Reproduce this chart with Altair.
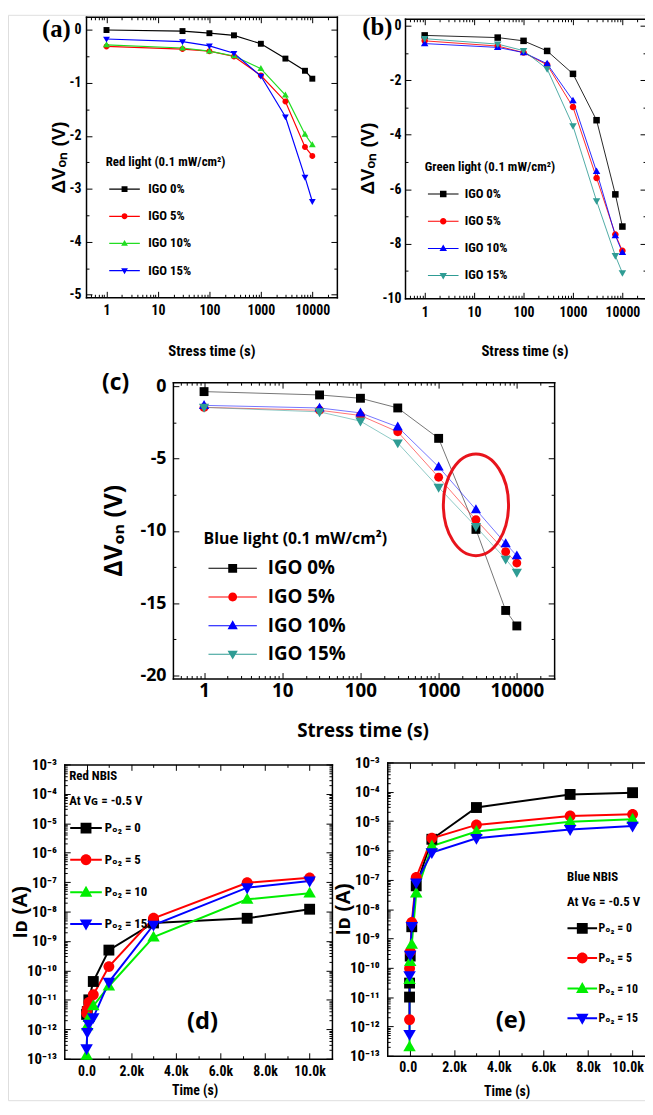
import altair as alt
import pandas as pd

# ------------------------------------------------------------------ data
STRESS_T = [1, 30, 100, 300, 1000, 3000, 7200, 10000]
IGO = ["IGO 0%", "IGO 5%", "IGO 10%", "IGO 15%"]

# (a) red light, delta V_on (V)
red_igo0 = [0.0, -0.02, -0.06, -0.10, -0.26, -0.54, -0.77, -0.92]
red_igo5 = [-0.31, -0.36, -0.40, -0.50, -0.86, -1.35, -2.21, -2.38]
red_igo10 = [-0.28, -0.34, -0.40, -0.49, -0.73, -1.23, -1.97, -2.17]
red_igo15 = [-0.17, -0.22, -0.30, -0.44, -0.87, -1.64, -2.78, -3.24]

# (b) green light
green_igo0 = [-0.36, -0.44, -0.56, -0.93, -1.77, -3.47, -6.19, -7.37]
green_igo5 = [-0.56, -0.75, -0.99, -1.44, -2.99, -5.59, -7.66, -8.26]
green_igo10 = [-0.66, -0.80, -0.99, -1.40, -2.75, -5.35, -7.70, -8.32]
green_igo15 = [-0.48, -0.68, -0.92, -1.59, -3.68, -6.43, -8.44, -9.07]

# (c) blue light
blue_igo0 = [-0.38, -0.61, -0.84, -1.51, -3.61, -9.9, -15.5, -16.57]
blue_igo5 = [-1.47, -1.67, -2.03, -3.16, -6.30, -9.23, -11.44, -12.23]
blue_igo10 = [-1.33, -1.51, -1.85, -2.82, -5.58, -8.53, -10.88, -11.72]
blue_igo15 = [-1.47, -1.78, -2.42, -3.93, -7.00, -9.71, -11.96, -12.87]

# circled region in (c)
ellipse_t = [3000]
ellipse_v = [-8.2]

# (d) red NBIS, I_D (A)
PO2 = ["P\u2092\u2082 = 0", "P\u2092\u2082 = 5", "P\u2092\u2082 = 10", "P\u2092\u2082 = 15"]
RED_NBIS_T = [0, 30, 100, 300, 1000, 3000, 7200, 10000]
rnbis_0 = [3.2e-12, 4.0e-12, 1.0e-11, 4.2e-11, 4.9e-10, 4.1e-9, 5.9e-9, 1.2e-8]
rnbis_5 = [3.5e-12, 4.8e-12, 8.1e-12, 1.5e-11, 1.35e-10, 5.9e-9, 9.5e-8, 1.4e-7]
rnbis_10 = [1.3e-13, 1.3e-12, 2.5e-12, 6.2e-12, 2.9e-11, 1.35e-9, 2.6e-8, 4.2e-8]
rnbis_15 = [2.2e-13, 7.9e-13, 1.5e-12, 2.5e-12, 4.0e-11, 3.5e-9, 6.5e-8, 1.1e-7]

# (e) blue NBIS
BLUE_NBIS_T = [0, 1, 30, 100, 300, 1000, 3000, 7200, 10000]
bnbis_0 = [1.0e-11, 3.0e-11, 2.5e-10, 2.5e-9, 6.2e-8, 2.4e-6, 2.9e-5, 8.1e-5, 9.3e-5]
bnbis_5 = [1.7e-12, 9.5e-11, 3.5e-10, 3.5e-9, 1.2e-7, 2.6e-6, 7.4e-6, 1.5e-5, 1.7e-5]
bnbis_10 = [2.0e-13, 3.9e-11, 1.6e-10, 6.2e-10, 3.5e-8, 1.4e-6, 4.4e-6, 9.5e-6, 1.15e-5]
bnbis_15 = [5.4e-13, 5.4e-11, 2.7e-10, 2.6e-9, 7.9e-8, 8.5e-7, 2.6e-6, 5.2e-6, 6.8e-6]

# ------------------------------------------------------------------ styles
FONT_N = "Liberation Sans Narrow, Arial Narrow, Roboto Condensed, DejaVu Sans Condensed, Roboto, sans-serif"
FONT_S = "Liberation Sans, Arial, sans-serif"
FONT_O = "Open Sans, Noto Sans, sans-serif"
FONT_SERIF = "Liberation Serif, Times New Roman, serif"

KINDS = ["square", "circle", "up", "down"]
GAP = {"square": 1.0, "circle": 1.0, "up": 0.65, "down": 0.65}
MAJ_TICK = 6
MIN_TICK = 3
CANVAS_W = 645
CANVAS_H = 1099
M = 8  # page margin: page coordinate = canvas coordinate + M


def marker(kind, cx, k):
    if kind == "square":
        return f"M{cx-k:.3f},{-k:.3f}H{cx+k:.3f}V{k:.3f}H{cx-k:.3f}Z"
    if kind == "circle":
        return (f"M{cx-k:.3f},0A{k:.3f},{k:.3f} 0 1,1 {cx+k:.3f},0"
                f"A{k:.3f},{k:.3f} 0 1,1 {cx-k:.3f},0Z")
    if kind == "up":
        return (f"M{cx:.3f},{-1.2*k:.3f}L{cx+1.15*k:.3f},{0.8*k:.3f}"
                f"L{cx-1.15*k:.3f},{0.8*k:.3f}Z")
    return (f"M{cx:.3f},{1.2*k:.3f}L{cx-1.15*k:.3f},{-0.8*k:.3f}"
            f"L{cx+1.15*k:.3f},{-0.8*k:.3f}Z")


def legend_path(kind, r, w, lw):
    x0 = -1.0
    x1 = w / r - 1.0
    cx = (x0 + x1) / 2
    h = lw / 2 / r
    g = GAP[kind]
    p = f"M{x0:.3f},{-h:.3f}H{cx-g:.3f}V{h:.3f}H{x0:.3f}Z"
    p += f"M{cx+g:.3f},{-h:.3f}H{x1:.3f}V{h:.3f}H{cx+g:.3f}Z"
    return p + marker(kind, cx, 1.0)


def long_df(times, series, names):
    rows = []
    for name, vals in zip(names, series):
        for t, v in zip(times, vals):
            rows.append({"t": t, "v": v, "s": name})
    return pd.DataFrame(rows)


# tick values (major ones are labelled, minor ones are short inner ticks)
LOGX_MAJOR = [1.0, 10.0, 100.0, 1000.0, 10000.0]
LOGX_MINOR = [0.5, 0.6, 0.7, 0.8, 0.9]
for e in range(0, 4):
    LOGX_MINOR += [float(f"{k}e{e}") for k in range(2, 10)]
LOGX_MINOR += [20000.0]

LOGY_MAJOR = [float(f"1e{e}") for e in range(-13, -2)]
LOGY_MINOR = []
for e in range(-13, -3):
    LOGY_MINOR += [float(f"{k}e{e}") for k in range(2, 10)]
SUP = {"0": "\u2070", "1": "\u00b9", "2": "\u00b2", "3": "\u00b3", "4": "\u2074", "5": "\u2075",
       "6": "\u2076", "7": "\u2077", "8": "\u2078", "9": "\u2079", "-": "\u207b"}
POW_LABELS = ["10" + "".join(SUP[c] for c in str(-n)) for n in range(3, 14)]
POW_ARRAY = "[" + ",".join(f"'{s}'" for s in POW_LABELS) + "]"
LOGY_LABEL = f"{POW_ARRAY}[-3 - round(log(datum.value)/LN10)]"

TIME_MAJOR = list(range(0, 10001, 2000))
TIME_MINOR = list(range(1000, 10000, 2000))
TIME_LABEL = "datum.value == 0 ? '0.0' : format(datum.value/1000, '.1f') + 'k'"
PLAIN_LABEL = "'' + datum.value"


def panel_layers(df, P):
    names = P["names"]
    xl, xr, yt, yb = [v - M for v in P["box"]]
    xs = alt.Scale(type=P["xtype"], domain=P["xdom"], range=[xl, xr], nice=False)
    ys = alt.Scale(type=P["ytype"], domain=P["ydom"], range=[yb, yt], nice=False)
    common = dict(grid=False, labelOverlap=False, minExtent=0, maxExtent=1000,
                  tickColor="black", tickWidth=1)

    # axis offsets that put an axis line at a given canvas position
    def off(orient, inset):
        if orient == "bottom":
            return yb - inset - CANVAS_H
        if orient == "top":
            return -(yt + inset)
        if orient == "left":
            return -(xl + inset)
        return xr - inset - CANVAS_W

    def tick_axis(orient, vals, size):
        return alt.Axis(orient=orient, values=vals, labels=False, domain=False,
                        tickSize=size, offset=off(orient, size), title=None, **common)

    def frame_axis(orient, vals):
        return alt.Axis(orient=orient, values=vals, labels=False, ticks=False, domain=True,
                        domainColor="black", domainWidth=1.5, domainCap="square",
                        offset=off(orient, 0), title=None, grid=False, minExtent=0)

    xtc, ytc = P["xtc"], P["ytc"]
    ax_bottom = alt.Axis(orient="bottom", values=P["xmajor"], labelExpr=P["xlab"], domain=False,
                         tickSize=MAJ_TICK, offset=off("bottom", MAJ_TICK),
                         labelFont=P["lfont"], labelFontSize=P["xlsize"], labelFontWeight="bold",
                         labelColor="black", labelPadding=P["xpad"],
                         labelFlush=P.get("flush", False), labelFlushOffset=P.get("flushoff", 0),
                         title=P["xtitle"], titleFont=P["xtfont"], titleFontSize=P["xtsize"],
                         titleFontWeight="bold", titleColor="black", titleBaseline="middle",
                         titleAlign="center", titleAngle=0,
                         titleX=xtc[0] - M, titleY=(xtc[1] - M) - (yb - MAJ_TICK), **common)
    ax_left = alt.Axis(orient="left", values=P["ymajor"], labelExpr=P["ylab"], domain=False,
                       tickSize=MAJ_TICK, offset=off("left", MAJ_TICK),
                       labelFont=P["lfont"], labelFontSize=P["ylsize"], labelFontWeight="bold",
                       labelColor="black", labelPadding=P["ypad"], labelFlush=False,
                       title=P["ytitle"], titleFont=P["ytfont"], titleFontSize=P["ytsize"],
                       titleFontWeight="bold", titleColor="black", titleBaseline="middle",
                       titleAlign="center", titleAngle=270,
                       titleX=(ytc[0] - M) - (xl + MAJ_TICK), titleY=ytc[1] - M, **common)

    color_plain = alt.Color("s:N", scale=alt.Scale(domain=names, range=P["colors"]), legend=None)
    r = P["r"]
    lines = alt.Chart(df).mark_line(strokeWidth=P["lw"], opacity=P.get("lop", 1)).encode(
        x=alt.X("t:Q", scale=xs, axis=ax_bottom),
        y=alt.Y("v:Q", scale=ys, axis=ax_left),
        color=color_plain,
    )
    points = alt.Chart(df).mark_point(filled=True, size=(2 * r) ** 2, opacity=1, strokeWidth=0).encode(
        x=alt.X("t:Q", scale=xs, axis=tick_axis("top", P["xmajor"], MAJ_TICK)),
        y=alt.Y("v:Q", scale=ys, axis=tick_axis("right", P["ymajor"], MAJ_TICK)),
        color=color_plain,
        shape=alt.Shape("s:N", scale=alt.Scale(domain=names, range=[marker(k, 0, 1.0) for k in KINDS]),
                        legend=None),
    )

    def carrier(xaxis, yaxis):
        return alt.Chart(df).mark_point(opacity=0).encode(
            x=alt.X("t:Q", scale=xs, axis=xaxis), y=alt.Y("v:Q", scale=ys, axis=yaxis))

    minor_lb = carrier(tick_axis("bottom", P["xminor"], MIN_TICK), tick_axis("left", P["yminor"], MIN_TICK))
    minor_tr = carrier(tick_axis("top", P["xminor"], MIN_TICK), tick_axis("right", P["yminor"], MIN_TICK))
    frame_lb = carrier(frame_axis("bottom", P["xmajor"]), frame_axis("left", P["ymajor"]))
    frame_tr = carrier(frame_axis("top", P["xmajor"]), frame_axis("right", P["ymajor"]))

    lgx, lgy = P["leg"]
    lg = dict(orient="none", legendX=lgx - M, legendY=lgy - M, title=P["legtitle"],
              titleFont=P["legfont"], titleFontSize=P["legtsize"], titleFontWeight="bold",
              titleColor="black", titlePadding=P["legtpad"], titleLimit=500,
              titleLineHeight=P.get("legtlh", P["legtsize"] + 2),
              labelFont=P["legfont"], labelFontSize=P["leglsize"], labelFontWeight="bold",
              labelColor="black", labelOffset=P["legw"] + P["leggap"] - 2 * r,
              labelLimit=400, symbolSize=(2 * r) ** 2, symbolStrokeWidth=0, symbolOpacity=1,
              rowPadding=P["legrow"], padding=0)
    leg_paths = [legend_path(k, r, P["legw"], P["lw"]) for k in KINDS]
    # legend carrier: draws no marks (all rows filtered out), only provides the legend
    legend_layer = alt.Chart(df).transform_filter("datum.v != datum.v").mark_point(
        filled=True, size=(2 * r) ** 2).encode(
        x=alt.X("t:Q", scale=xs, axis=None),
        y=alt.Y("v:Q", scale=ys, axis=None),
        color=alt.Color("s:N", scale=alt.Scale(domain=names, range=P["colors"]), legend=alt.Legend(**lg)),
        shape=alt.Shape("s:N", scale=alt.Scale(domain=names, range=leg_paths), legend=alt.Legend(**lg)),
    )
    tx, ty = P["tagc"]
    tag = alt.Chart(pd.DataFrame({"lab": [P["tag"]]})).mark_text(
        font=P["tagfont"], fontSize=P["tagsize"], fontWeight="bold", color="black",
        align="center", baseline="middle",
    ).encode(text="lab:N", x=alt.value(tx - M), y=alt.value(ty - M))
    layers = [frame_lb, frame_tr, minor_lb, minor_tr, lines, points, legend_layer, tag]
    if "ellipse" in P:
        ew, eh = P["ellipse"]
        a = ew / eh
        path = f"M0,-1A{a:.3f},1 0 1,1 0,1A{a:.3f},1 0 1,1 0,-1Z"
        ell = alt.Chart(pd.DataFrame({"t": ellipse_t, "v": ellipse_v})).mark_point(
            shape=path, size=eh ** 2, filled=False, color="#e8141c", strokeWidth=3, opacity=1,
        ).encode(x=alt.X("t:Q", scale=xs, axis=None), y=alt.Y("v:Q", scale=ys, axis=None))
        layers.append(ell)
    return layers


IGO_COLORS_A = ["#000000", "#ff0000", "#22dd22", "#0000ff"]
IGO_COLORS_B = ["#000000", "#ff0000", "#0000ff", "#2f9c94"]
NBIS_COLORS = ["#000000", "#ff0000", "#00ee00", "#0000ff"]

base_igo = dict(names=IGO, xtype="log", xdom=[0.4, 30000], xmajor=LOGX_MAJOR, xminor=LOGX_MINOR,
                xlab=PLAIN_LABEL, ylab=PLAIN_LABEL, xtitle="Stress time (s)",
                ytitle="\u0394V\u2092\u2099 (V)", ytype="linear")

# page-pixel layout: box = (left, right, top, bottom) of each plot frame
PA = dict(base_igo, box=(87, 341, 10, 294), ydom=[-5.05, 0.25],
          ymajor=list(range(-5, 1)), yminor=[x + 0.5 for x in range(-5, 0)],
          lfont=FONT_N, xlsize=14, ylsize=14, xpad=6, ypad=5,
          xtfont=FONT_N, xtsize=15, xtc=(214, 348), ytfont=FONT_S, ytsize=19, ytc=(59, 152),
          colors=IGO_COLORS_A, lw=1.2, r=3.0,
          leg=(107, 151), legtitle="Red light (0.1 mW/cm\u00b2)", legfont=FONT_N,
          legtsize=13, leglsize=13, legtpad=14, legw=31, leggap=5, legrow=13.5,
          tag="(a)", tagfont=FONT_SERIF, tagsize=25, tagc=(57, 22))

PB = dict(base_igo, box=(410, 654, 12, 295), ydom=[-10, 0.25],
          ymajor=list(range(-10, 1, 2)), yminor=list(range(-9, 0, 2)),
          lfont=FONT_N, xlsize=14, ylsize=14, xpad=7, ypad=4,
          xtfont=FONT_N, xtsize=15, xtc=(531, 348), ytfont=FONT_S, ytsize=19, ytc=(372, 153),
          colors=IGO_COLORS_B, lw=1.0, lop=0.85, r=3.3,
          leg=(430, 156), legtitle="Green light (0.1 mW/cm\u00b2)", legfont=FONT_N,
          legtsize=13, leglsize=13, legtpad=14, legw=31, leggap=3, legrow=13.5,
          tag="(b)", tagfont=FONT_SERIF, tagsize=25, tagc=(382, 20))

PC = dict(base_igo, box=(175, 561, 380, 680), ydom=[-20.2, 0.27],
          ymajor=list(range(-20, 1, 5)), yminor=[-17.5, -12.5, -7.5, -2.5],
          lfont=FONT_O, xlsize=19, ylsize=18, xpad=3, ypad=7,
          xtfont=FONT_O, xtsize=19, xtc=(367, 733), ytfont=FONT_O, ytsize=25, ytc=(115, 530),
          colors=IGO_COLORS_B, lw=1.0, lop=0.55, r=4.5,
          leg=(206, 531), legtitle="Blue light (0.1 mW/cm\u00b2)", legfont=FONT_O,
          legtsize=16, leglsize=19, legtpad=12, legw=49, leggap=6, legrow=9,
          tag="(c)", tagfont=FONT_O, tagsize=23, tagc=(117, 381), ellipse=(66, 103))

base_nbis = dict(names=PO2, xtype="linear", ytype="log", ydom=[1e-13, 1e-3], xdom=[-1000, 11000],
                 xmajor=TIME_MAJOR, xminor=TIME_MINOR, xlab=TIME_LABEL,
                 ymajor=LOGY_MAJOR, yminor=LOGY_MINOR, ylab=LOGY_LABEL,
                 lfont=FONT_N, xlsize=14, ylsize=15, ypad=8,
                 xtitle="Time (s)", xtfont=FONT_N, xtsize=14,
                 ytitle="I\u1d05 (A)", ytfont=FONT_S, ytsize=21,
                 colors=NBIS_COLORS, lw=2.0, r=5.5, legfont=FONT_N, legtsize=13, leglsize=13,
                 legtlh=25, legtpad=14, legrow=18, tagfont=FONT_O, tagsize=24)

PD = dict(base_nbis, box=(65, 336, 767, 1065), xpad=6, xtc=(197, 1097), ytc=(20.5, 916),
          leg=(70, 773), legtitle=["Red NBIS", "At V\u0262 = -0.5 V"], legw=32, leggap=2,
          tag="(d)", tagc=(205, 1028))

PE = dict(base_nbis, box=(392, 663, 765, 1062), xpad=5, xtc=(513, 1098), ytc=(348, 913),
          flush=25, flushoff=11,
          leg=(574, 875), legtitle=["Blue NBIS", "At V\u0262 = -0.5 V"], legw=30, leggap=1,
          leglsize=12, tag="(e)", tagc=(517, 1027))

df_a = long_df(STRESS_T, [red_igo0, red_igo5, red_igo10, red_igo15], IGO)
df_b = long_df(STRESS_T, [green_igo0, green_igo5, green_igo10, green_igo15], IGO)
df_c = long_df(STRESS_T, [blue_igo0, blue_igo5, blue_igo10, blue_igo15], IGO)
df_d = long_df(RED_NBIS_T, [rnbis_0, rnbis_5, rnbis_10, rnbis_15], PO2)
df_e = long_df(BLUE_NBIS_T, [bnbis_0, bnbis_5, bnbis_10, bnbis_15], PO2)

all_layers = []
for d, p in [(df_a, PA), (df_b, PB), (df_c, PC), (df_d, PD), (df_e, PE)]:
    all_layers += panel_layers(d, p)

chart = alt.layer(*all_layers).resolve_scale(
    x="independent", y="independent", color="independent", shape="independent"
).resolve_axis(x="independent", y="independent").properties(
    width=CANVAS_W, height=CANVAS_H, padding=0,
    autosize=alt.AutoSizeParams(type="none"),
).configure_view(stroke=None).configure(background="white")

chart.save("out.html", embed_options={"renderer": "svg", "actions": False})
